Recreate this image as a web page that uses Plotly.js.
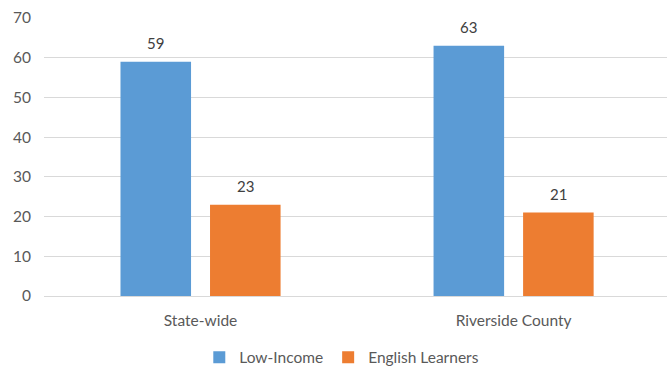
<!DOCTYPE html>
<html>
<head>
<meta charset="utf-8">
<script src="https://cdn.plot.ly/plotly-3.0.1.min.js"></script>
<style>html,body{margin:0;padding:0;background:#fff;}#chart{width:667px;height:368px;}</style>
</head>
<body>
<div id="chart"></div>
<script>
var categories = ["State-wide", "Riverside County"];
var seriesNames = ["Low-Income", "English Learners"];
var lowIncome = [59, 63];
var englishLearners = [23, 21];
var yTicks = [0, 10, 20, 30, 40, 50, 60, 70];

var colors = ["#5B9BD5", "#ED7D31"];
var font = "Lato, 'Open Sans', sans-serif";

var traces = [
  {type: "bar", name: seriesNames[0], x: categories, y: lowIncome, marker: {color: colors[0]}, hoverinfo: "none"},
  {type: "bar", name: seriesNames[1], x: categories, y: englishLearners, marker: {color: colors[1]}, hoverinfo: "none"}
];

var annotations = [];
var seriesVals = [lowIncome, englishLearners];
var offsets = [-0.1429, 0.1429];
for (var s = 0; s < seriesVals.length; s++) {
  for (var i = 0; i < categories.length; i++) {
    annotations.push({
      x: i + offsets[s], y: seriesVals[s][i], xref: "x", yref: "y",
      text: String(seriesVals[s][i]), showarrow: false,
      yanchor: "middle", yshift: 19,
      font: {family: font, size: 15, color: "#404040"}
    });
  }
}

var layout = {
  width: 667, height: 368,
  margin: {l: 44, r: 0, t: 18, b: 72, autoexpand: false},
  paper_bgcolor: "#fff", plot_bgcolor: "#fff",
  barmode: "group", bargap: 0.428, bargroupgap: 0.212,
  showlegend: true,
  legend: {orientation: "h", x: 0.478, xanchor: "center", xref: "paper", y: -0.222, yanchor: "middle",
           font: {family: font, size: 15.5, color: "#595959"}, traceorder: "normal", itemwidth: 30},
  xaxis: {type: "category", range: [-0.5, 1.49], showgrid: false, zeroline: false, showline: false, automargin: false,
          ticks: "", ticklabelstandoff: 13, tickfont: {family: font, size: 15.5, color: "#595959"}},
  yaxis: {range: [0, 70], tickvals: yTicks, ticktext: yTicks.map(String), showgrid: true, gridcolor: "#D9D9D9", gridwidth: 1,
          zeroline: true, zerolinecolor: "#D9D9D9", zerolinewidth: 1, showline: false, ticks: "", automargin: false,
          ticklabelstandoff: 12, tickfont: {family: font, size: 15.5, color: "#595959"}},
  annotations: annotations,
  font: {family: font}
};

Plotly.newPlot("chart", traces, layout, {displayModeBar: false, staticPlot: true});
</script>
</body>
</html>
